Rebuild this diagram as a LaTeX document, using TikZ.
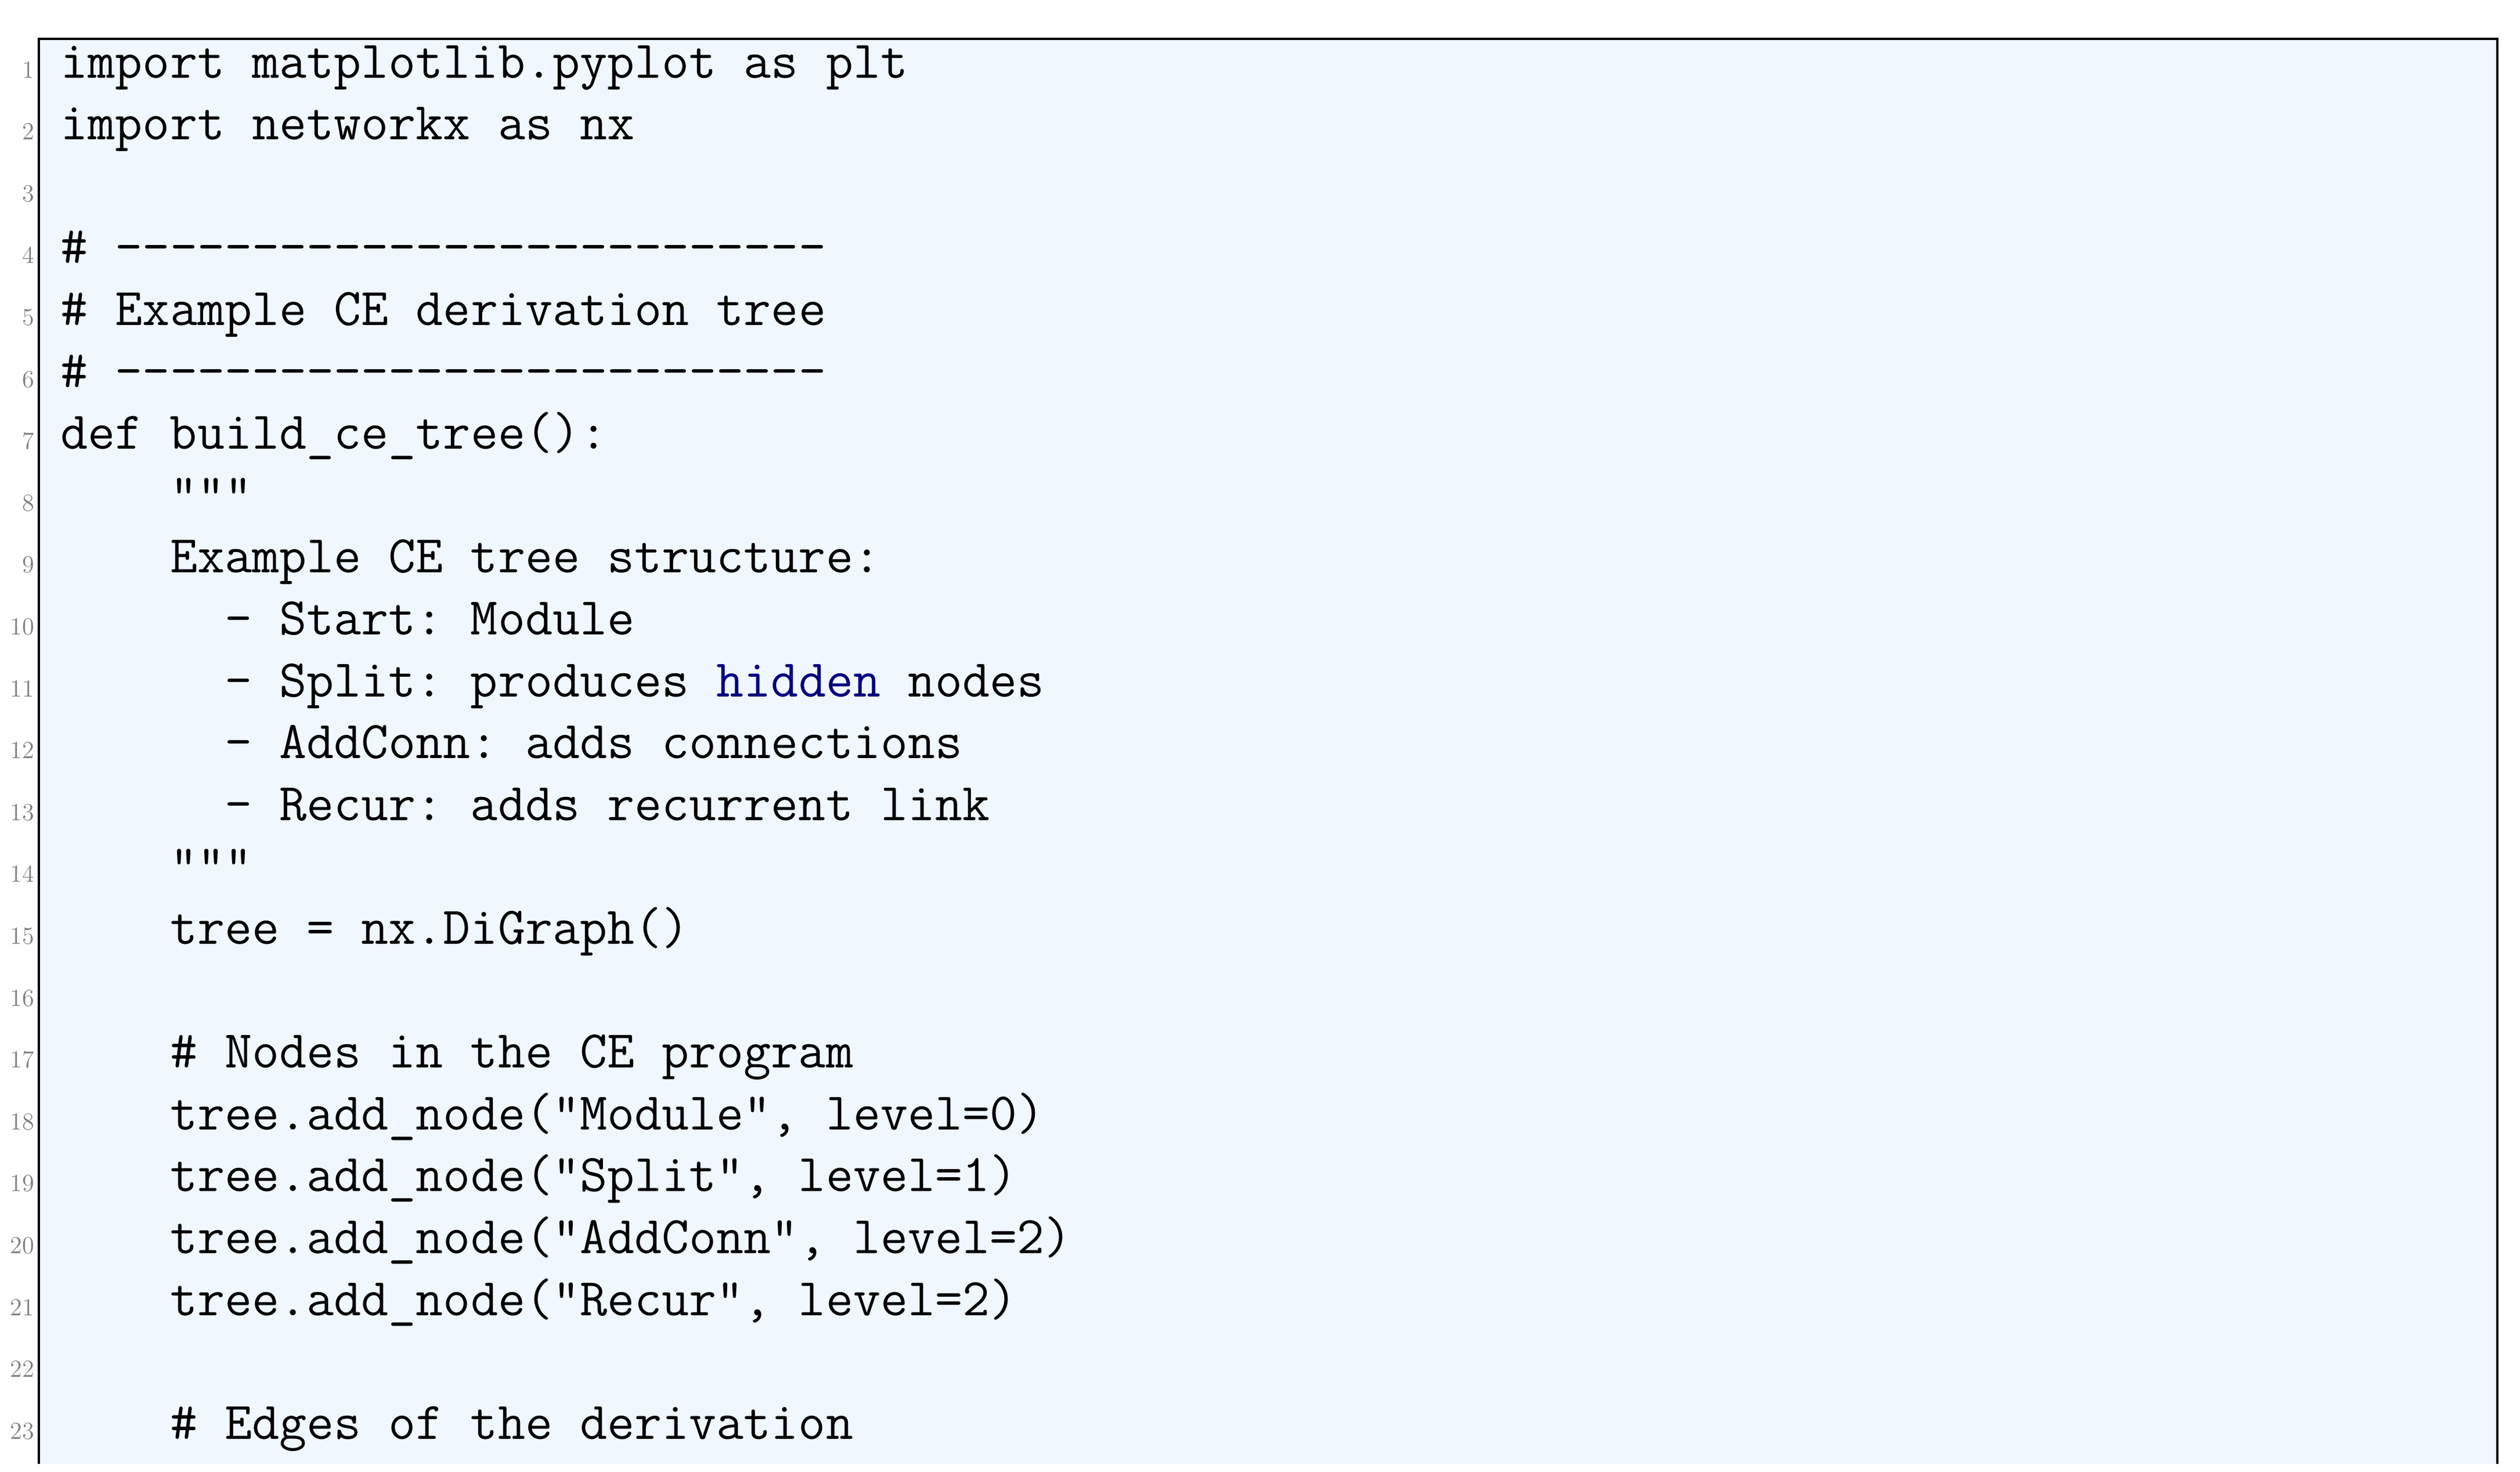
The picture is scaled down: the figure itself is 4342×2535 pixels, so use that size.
\documentclass[tikz,border=0pt]{standalone}
\usepackage{tikz}
\usetikzlibrary{positioning}
\definecolor{codebg}{rgb}{0.94,0.97,1.0}
\definecolor{kwblue}{rgb}{0,0,0.5}
\newcommand{\dashes}{\mbox{-}\mbox{-}\mbox{-}\mbox{-}\mbox{-}\mbox{-}\mbox{-}\mbox{-}\mbox{-}\mbox{-}\mbox{-}\mbox{-}\mbox{-}\mbox{-}\mbox{-}\mbox{-}\mbox{-}\mbox{-}\mbox{-}\mbox{-}\mbox{-}\mbox{-}\mbox{-}\mbox{-}\mbox{-}\mbox{-}}
\tikzset{
  codeline/.style={anchor=base west, inner sep=0pt, font=\fontsize{26}{26}\selectfont\ttfamily},
  lineno/.style={anchor=base east, inner sep=0pt, text=gray, font=\fontsize{12}{12}\selectfont}
}
\begin{document}
\begin{tikzpicture}[x=0.01cm,y=-0.01cm]
\useasboundingbox (0,0) rectangle (4342,2535);
\fill[codebg] (67,67) rectangle (4303,2522);
\draw[line width=0.04cm] (67,2522) -- (67,67) -- (4303,67) -- (4303,2522);

\foreach \n in {1,...,23}
  \node[lineno] (n\n) at (60,{134+(\n-1)*106.6}) {\n};

\node[codeline] (l1) at (104,134) {import~matplotlib.pyplot~as~plt};
\node[codeline] (l2) at (104,240.6) {import~networkx~as~nx};
\node[codeline] (l4) at (104,453.8) {\#~\dashes};
\node[codeline] (l5) at (104,560.4) {\#~Example~CE~derivation~tree};
\node[codeline] (l6) at (104,667) {\#~\dashes};
\node[codeline] (l7) at (104,773.6) {def~build\_ce\_tree():};
\node[codeline] (l8) at (104,880.2) {~~~~"""};
\node[codeline] (l9) at (104,986.8) {~~~~Example~CE~tree~structure:};
\node[codeline] (l10) at (104,1093.4) {~~~~~~-~Start:~Module};
\node[codeline] (l11) at (104,1200) {~~~~~~-~Split:~produces~\textcolor{kwblue}{hidden}~nodes};
\node[codeline] (l12) at (104,1306.6) {~~~~~~-~AddConn:~adds~connections};
\node[codeline] (l13) at (104,1413.2) {~~~~~~-~Recur:~adds~recurrent~link};
\node[codeline] (l14) at (104,1519.8) {~~~~"""};
\node[codeline] (l15) at (104,1626.4) {~~~~tree~=~nx.DiGraph()};
\node[codeline] (l17) at (104,1839.6) {~~~~\#~Nodes~in~the~CE~program};
\node[codeline] (l18) at (104,1946.2) {~~~~tree.add\_node("Module",~level=0)};
\node[codeline] (l19) at (104,2052.8) {~~~~tree.add\_node("Split",~level=1)};
\node[codeline] (l20) at (104,2159.4) {~~~~tree.add\_node("AddConn",~level=2)};
\node[codeline] (l21) at (104,2266) {~~~~tree.add\_node("Recur",~level=2)};
\node[codeline] (l23) at (104,2479.2) {~~~~\#~Edges~of~the~derivation};
\end{tikzpicture}
\end{document}
